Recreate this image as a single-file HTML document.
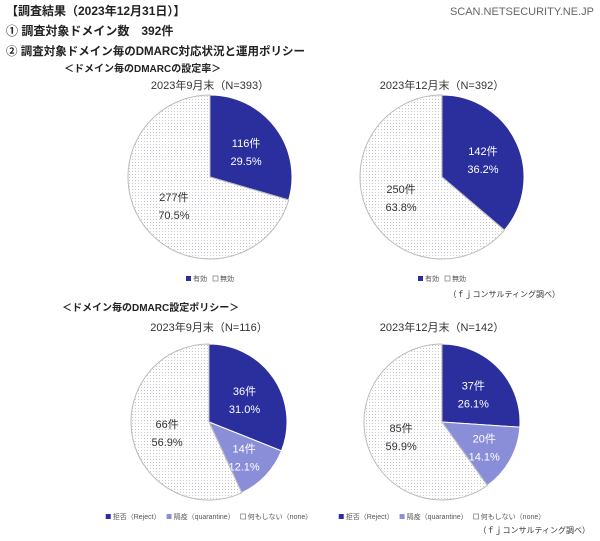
<!DOCTYPE html>
<html><head><meta charset="utf-8"><style>
body{margin:0;background:#fff;width:600px;height:536px;overflow:hidden;font-family:"Liberation Sans","Noto Sans CJK JP",sans-serif;}
svg text{font-family:"Liberation Sans","Noto Sans CJK JP",sans-serif;}
</style></head><body>
<svg width="600" height="536">
<defs>
<pattern id="dots" width="3" height="3" patternUnits="userSpaceOnUse"><rect width="3" height="3" fill="#fff"/><rect width="1" height="1" fill="#c8c8d0"/></pattern>
</defs>
<text x="6" y="15" font-size="12" font-weight="bold" fill="#222">【調査結果（2023年12月31日）】</text>
<text x="594" y="15" font-size="11" fill="#666" text-anchor="end">SCAN.NETSECURITY.NE.JP</text>
<text x="6" y="35" font-size="12" font-weight="bold" fill="#222">① 調査対象ドメイン数　392件</text>
<text x="6" y="55" font-size="11.5" font-weight="bold" fill="#222">② 調査対象ドメイン毎のDMARC対応状況と運用ポリシー</text>
<text x="64" y="72" font-size="10" font-weight="bold" fill="#222">＜ドメイン毎のDMARCの設定率＞</text>
<text x="62" y="311" font-size="10" font-weight="bold" fill="#222">＜ドメイン毎のDMARC設定ポリシー＞</text>
<g id="charts"></g>
<text x="560" y="297" font-size="8" fill="#333" text-anchor="end">（ｆｊコンサルティング調べ）</text>
<text x="590" y="533" font-size="8" fill="#333" text-anchor="end">（ｆｊコンサルティング調べ）</text>
</svg>
<script>
const titles=["2023年9月末（N=393）","2023年12月末（N=392）","2023年9月末（N=116）","2023年12月末（N=142）"];
const counts1=[116,277];
const counts2=[142,250];
const counts3=[36,14,66];
const counts4=[37,20,85];
const pcts1=["29.5%","70.5%"];
const pcts2=["36.2%","63.8%"];
const pcts3=["31.0%","12.1%","56.9%"];
const pcts4=["26.1%","14.1%","59.9%"];
const legend1=["有効","無効"];
const legend2=["拒否（Reject）","隔疫（quarantine）","何もしない（none）"];
const fills=["#2b2f9e","#8a8ed8","url(#dots)"];
const NS="http://www.w3.org/2000/svg";
const g=document.getElementById('charts');
function mk(t,a,p){const e=document.createElementNS(NS,t);for(const k in a)e.setAttribute(k,a[k]);(p||g).appendChild(e);return e;}
function pie(cx,cy,r,counts,pcts,title,legend,ty,ly,idx){
  const tt=mk('text',{x:cx,y:ty,'font-size':11,fill:'#333','text-anchor':'middle'});tt.textContent=title;
  
  
  const tot=counts.reduce((a,b)=>a+b,0);let a0=0;
  counts.forEach((v,i)=>{
    const a1=a0+v/tot*2*Math.PI;
    const x0=cx+r*Math.sin(a0),y0=cy-r*Math.cos(a0),x1=cx+r*Math.sin(a1),y1=cy-r*Math.cos(a1);
    const lg=(a1-a0)>Math.PI?1:0;
    const last=i===counts.length-1;
    const p=mk('path',{d:`M${cx},${cy}L${x0},${y0}A${r},${r} 0 ${lg} 1 ${x1},${y1}Z`,fill:fills[last?2:i],stroke:last?'#bbb':'#fff','stroke-width':1});
    
    
    const m=(a0+a1)/2,lr=r*((a1-a0)<1?0.62:0.55);
    const lx=cx+lr*Math.sin(m),lyy=cy-lr*Math.cos(m);
    const col=last?'#333':'#fff';
    const t1=mk('text',{x:lx,y:lyy-3,'font-size':11,fill:col,'text-anchor':'middle'});t1.textContent=v+'件';
    
    
    const t2=mk('text',{x:lx,y:lyy+15,'font-size':11,fill:col,'text-anchor':'middle'});t2.textContent=pcts[i];
    
    
    a0=a1;
  });
  const items=[];let total=0;
  legend.forEach((l,i)=>{
    const s=mk('rect',{x:0,y:ly-5,width:5,height:5,fill:i===legend.length-1?'#fff':fills[i],stroke:i===legend.length-1?'#666':'none','stroke-width':0.6});
    
    
    const t=mk('text',{x:0,y:ly,'font-size':7,fill:'#555'});t.textContent=l;
    
    
    const w=7+t.getComputedTextLength();
    items.push([s,t,w]);total+=w+6;
  });
  let x=cx-(total-6)/2;
  items.forEach(([s,t,w])=>{s.setAttribute('x',x);t.setAttribute('x',x+7);x+=w+6;});
}
pie(210,177,82,counts1,pcts1,titles[0],legend1,89,281,1);
pie(442,177,82,counts2,pcts2,titles[1],legend1,89,281,2);
pie(209,422,78,counts3,pcts3,titles[2],legend2,331,519,3);
pie(442,422,78,counts4,pcts4,titles[3],legend2,331,519,4);
</script>
</body></html>
